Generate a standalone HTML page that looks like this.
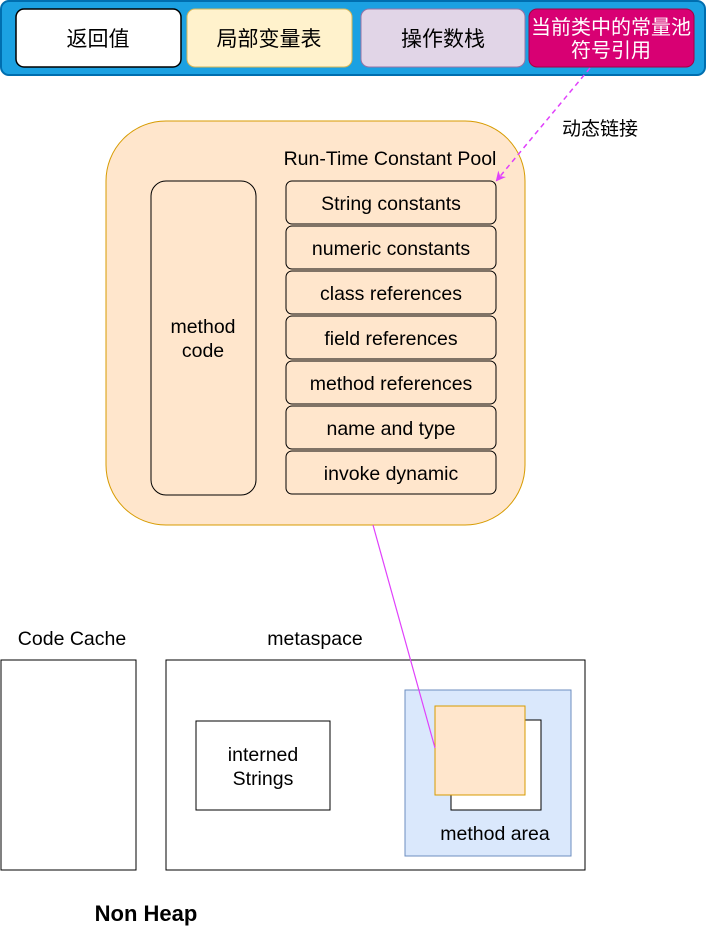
<!DOCTYPE html>
<html><head><meta charset="utf-8"><style>html,body{margin:0;padding:0;background:#fff}svg{display:block}</style></head>
<body>
<svg width="707" height="936" viewBox="0 0 707 936" xmlns="http://www.w3.org/2000/svg" font-family="Liberation Sans, Noto Sans CJK SC, sans-serif">
<defs>
<marker id="ah" markerWidth="10" markerHeight="10" refX="8" refY="5" orient="auto" markerUnits="userSpaceOnUse">
<path d="M0,0 L10,5 L0,10 L3,5 Z" fill="#e040fb"/></marker>
</defs>
<rect x="1" y="1" width="704" height="74" rx="8" fill="#1ba1e2" stroke="#006eaf" stroke-width="2"/>
<rect x="16" y="9" width="165" height="58" rx="8" fill="#fff" stroke="#000" stroke-width="1.5"/>
<rect x="187" y="9" width="165" height="58" rx="8" fill="#fff2cc" stroke="#d6b656"/>
<rect x="361" y="9" width="164" height="58" rx="8" fill="#e1d5e7" stroke="#9673a6"/>
<rect x="529" y="9" width="165" height="58" rx="8" fill="#d80073" stroke="#a50040"/>
<g font-size="21" text-anchor="middle" font-family="Noto Sans CJK SC, sans-serif">
<text x="98" y="46">返回值</text>
<text x="269" y="46">局部变量表</text>
<text x="443" y="46">操作数栈</text>
<text x="611" y="34" fill="#fff" font-size="20">当前类中的常量池</text>
<text x="611" y="57" fill="#fff" font-size="20">符号引用</text>
</g>
<text x="600" y="135" font-size="19" text-anchor="middle" font-family="Noto Sans CJK SC, sans-serif">动态链接</text>
<rect x="106" y="121" width="419" height="404" rx="60" fill="#ffe6cc" stroke="#d79b00"/>
<line x1="590" y1="68" x2="497" y2="180" stroke="#e040fb" stroke-width="1.5" stroke-dasharray="5,4" marker-end="url(#ah)"/>
<text x="390" y="165" font-size="19.5" text-anchor="middle">Run-Time Constant Pool</text>
<rect x="151" y="181" width="105" height="314" rx="15" fill="none" stroke="#000"/>
<text x="203" y="333" font-size="19.5" text-anchor="middle">method</text>
<text x="203" y="357" font-size="19.5" text-anchor="middle">code</text>
<g font-size="19.5" text-anchor="middle">
<rect x="286" y="181" width="210" height="43" rx="6" fill="none" stroke="#000"/><text x="391" y="210">String constants</text>
<rect x="286" y="226" width="210" height="43" rx="6" fill="none" stroke="#000"/><text x="391" y="255">numeric constants</text>
<rect x="286" y="271" width="210" height="43" rx="6" fill="none" stroke="#000"/><text x="391" y="300">class references</text>
<rect x="286" y="316" width="210" height="43" rx="6" fill="none" stroke="#000"/><text x="391" y="345">field references</text>
<rect x="286" y="361" width="210" height="43" rx="6" fill="none" stroke="#000"/><text x="391" y="390">method references</text>
<rect x="286" y="406" width="210" height="43" rx="6" fill="none" stroke="#000"/><text x="391" y="435">name and type</text>
<rect x="286" y="451" width="210" height="43" rx="6" fill="none" stroke="#000"/><text x="391" y="480">invoke dynamic</text>
</g>
<text x="72" y="645" font-size="19.5" text-anchor="middle">Code Cache</text>
<rect x="1" y="660" width="135" height="210" fill="none" stroke="#000"/>
<text x="315" y="645" font-size="19.5" text-anchor="middle">metaspace</text>
<rect x="166" y="660" width="419" height="210" fill="none" stroke="#000"/>
<rect x="196" y="721" width="134" height="89" fill="none" stroke="#000"/>
<text x="263" y="761" font-size="19.5" text-anchor="middle">interned</text>
<text x="263" y="785" font-size="19.5" text-anchor="middle">Strings</text>
<rect x="405" y="690" width="166" height="166" fill="#dae8fc" stroke="#6c8ebf"/>
<rect x="451" y="720" width="90" height="90" fill="#fff" stroke="#000"/>
<rect x="435" y="706" width="90" height="89" fill="#ffe6cc" stroke="#d79b00"/>
<line x1="373" y1="525" x2="435" y2="748" stroke="#e040fb" stroke-width="1.2"/>
<text x="495" y="840" font-size="19.5" text-anchor="middle">method area</text>
<text x="146" y="921" font-size="22" font-weight="bold" text-anchor="middle">Non Heap</text>
</svg>
</body></html>
